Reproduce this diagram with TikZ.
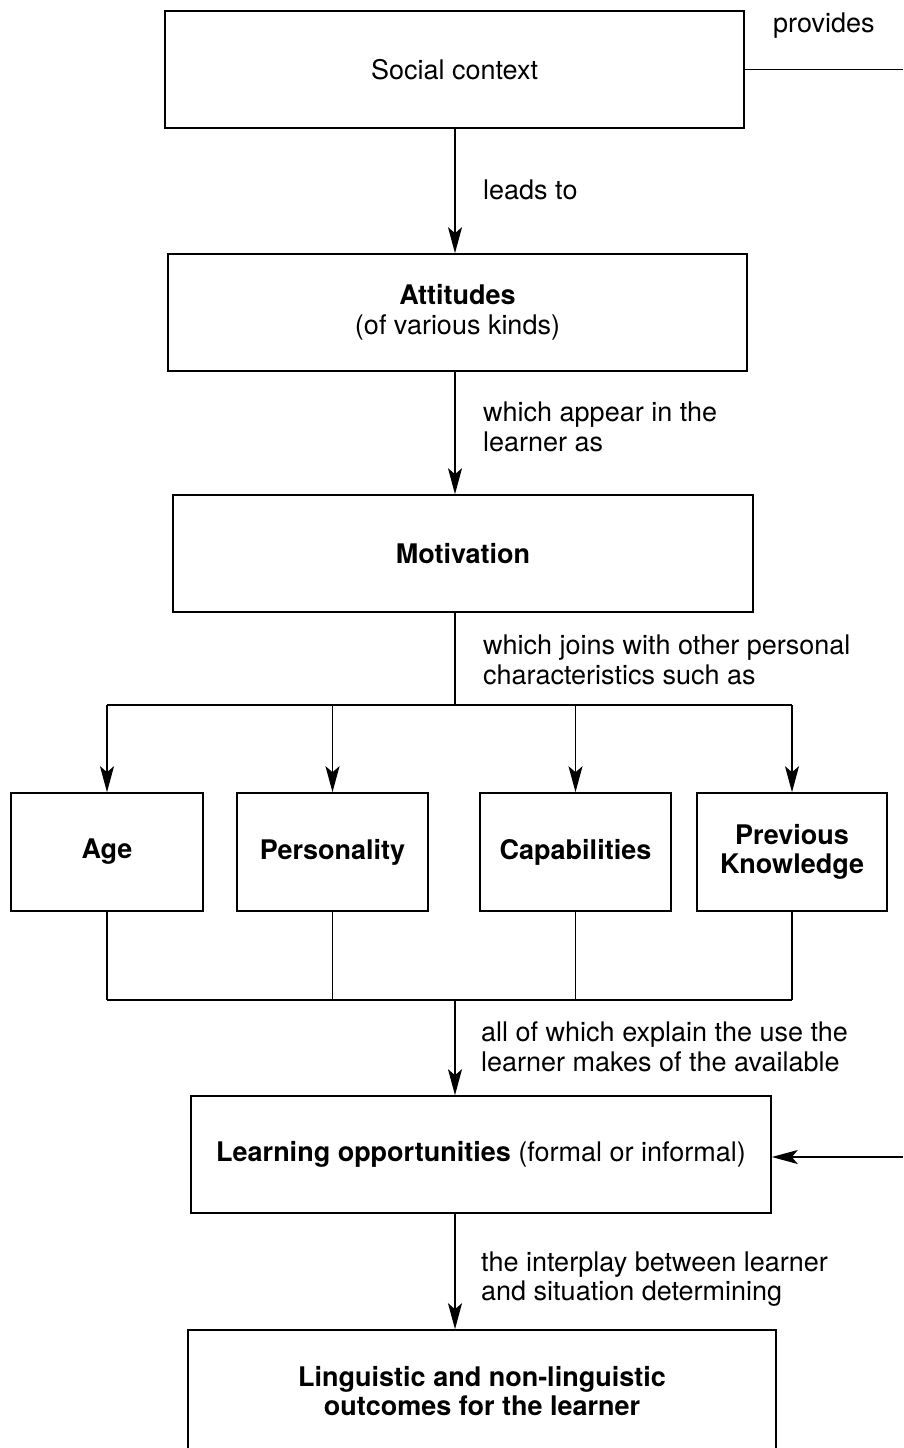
\documentclass[tikz,border=0pt]{standalone}
\usepackage{fontspec}
\setmainfont{TeX Gyre Heros}
\usetikzlibrary{arrows.meta}
\tikzset{
  box/.style={draw, line width=1.6pt, inner sep=0pt, align=center, font=\fontsize{27}{29.5}\selectfont},
  lbl/.style={anchor=west, align=left, inner sep=0pt, font=\fontsize{27}{29.5}\selectfont},
  line/.style={line width=1.5pt},
  arr/.style={line width=1.5pt, -{Stealth[length=26pt,width=14pt,inset=6pt]}}
}
\begin{document}
\begin{tikzpicture}[x=1pt,y=-1pt]
\useasboundingbox (0,0) rectangle (903,1448);
\coordinate (cx) at (455,0);
% boxes
\node[box, minimum width=579pt, minimum height=117pt] (soc) at (454.5,69.5) {Social context};
\node[box, minimum width=579pt, minimum height=117pt] (att) at (457.5,312.5) {\textbf{Attitudes}\\(of various kinds)};
\node[box, minimum width=580pt, minimum height=117pt] (mot) at (463,553.5) {\textbf{Motivation}};
\node[box, minimum width=192pt, minimum height=118pt] (age) at (107,852) {\textbf{Age}};
\node[box, minimum width=191pt, minimum height=118pt] (per) at (332.5,852) {\textbf{Personality}};
\node[box, minimum width=191pt, minimum height=118pt] (cap) at (575.5,852) {\textbf{Capabilities}};
\node[box, minimum width=190pt, minimum height=118pt] (prev) at (792,852) {\textbf{Previous}\\\textbf{Knowledge}};
\node[box, minimum width=580pt, minimum height=117pt] (lo) at (481,1154.5) {\textbf{Learning opportunities} (formal or informal)};
\node[box, minimum width=588pt, minimum height=122pt] (out) at (482,1391) {\textbf{Linguistic and non-linguistic}\\\textbf{outcomes for the learner}};
% labels
\node[lbl] (lprov) at (773,26) {provides};
\node[lbl] (llead) at (483,190) {leads to};
\node[lbl] (lapp) at (483,427) {which appear in the\\learner as};
\node[lbl] (ljoin) at (483,660) {which joins with other personal\\characteristics such as};
\node[lbl] (lall) at (481,1047) {all of which explain the use the\\learner makes of the available};
\node[lbl] (linter) at (481,1279) {the interplay between learner\\and situation determining};
% coordinates
\coordinate (pr) at (903,70);
\coordinate (lr) at (903,1157);
\coordinate (top) at (455,705);
\coordinate (bot) at (455,1000);
% connectors
\draw[line] (soc.east) -- (soc.east -| pr);
\draw[arr] (lr) -- (lr -| lo.east);
\draw[arr] (soc.south -| cx) -- (att.north -| cx);
\draw[arr] (att.south -| cx) -- (mot.north -| cx);
\draw[line] (mot.south -| cx) -- (top);
\draw[line] (top -| age) -- (top -| prev);
\draw[arr] (top -| age) -- (age.north);
\draw[arr] (top -| per) -- (per.north);
\draw[arr] (top -| cap) -- (cap.north);
\draw[arr] (top -| prev) -- (prev.north);
\draw[line] (age.south) -- (bot -| age);
\draw[line] (per.south) -- (bot -| per);
\draw[line] (cap.south) -- (bot -| cap);
\draw[line] (prev.south) -- (bot -| prev);
\draw[line] (bot -| age) -- (bot -| prev);
\draw[arr] (bot) -- (lo.north -| cx);
\draw[arr] (lo.south -| cx) -- (out.north -| cx);
\end{tikzpicture}
\end{document}
